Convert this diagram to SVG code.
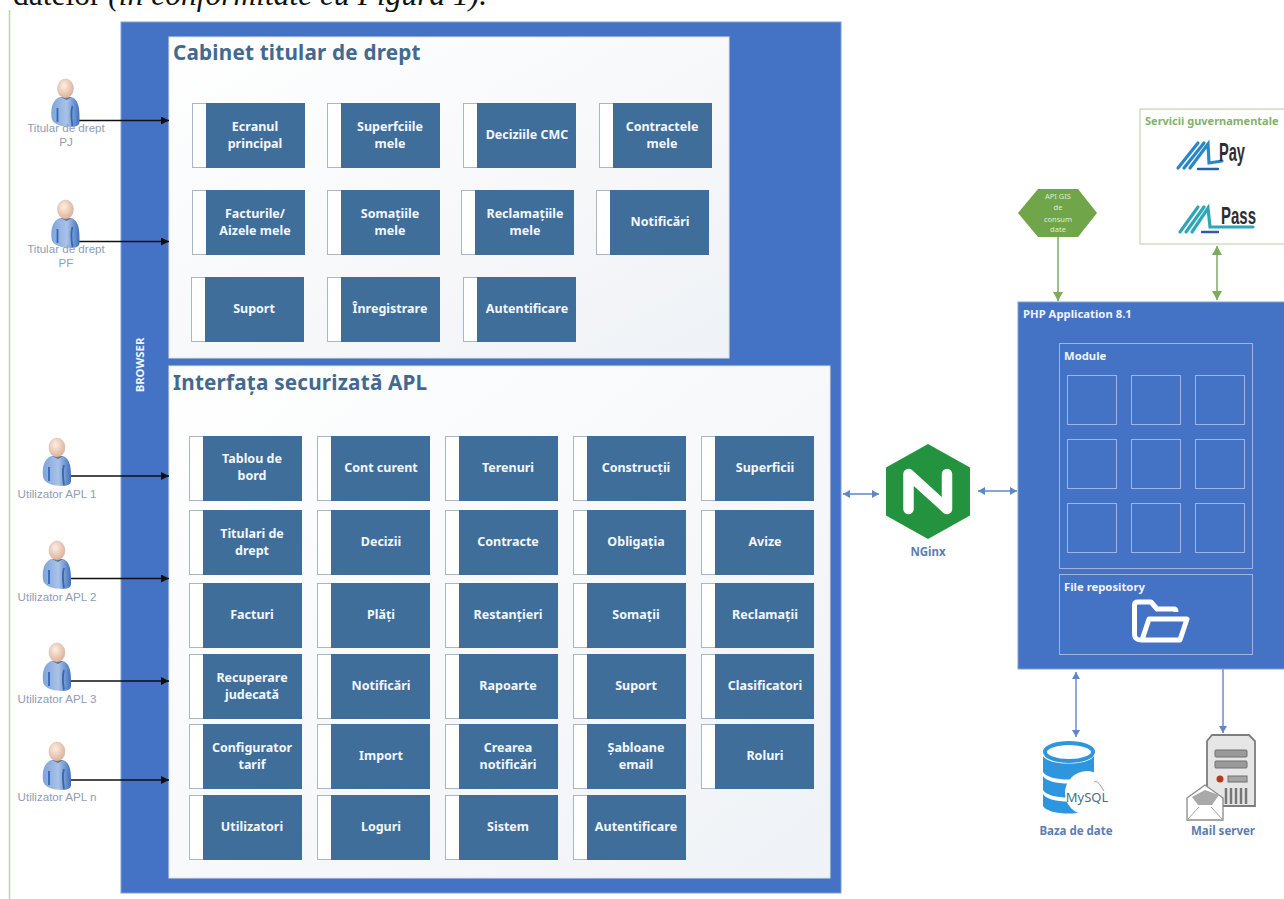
<svg xmlns="http://www.w3.org/2000/svg" width="1284" height="899" viewBox="0 0 1284 899">
<style>
text{font-family:"Noto Sans","Open Sans","DejaVu Sans",sans-serif}
.panel{fill:url(#pg);stroke:#dde3ea;stroke-width:1}
.blue{fill:#4472c4;stroke:#7f9fd6;stroke-width:1}
.bw{fill:#fff;stroke:#a9b6c4;stroke-width:1}
.bb{fill:#406e9b}
.t{fill:#f4f7fa;font-size:12.5px;font-weight:700;text-anchor:middle}
.h{fill:#44698f;font-size:20.7px;font-weight:700;letter-spacing:.2px}
.u{fill:#8f9db5;font-size:11.6px;text-anchor:middle;font-family:"Liberation Sans",sans-serif}
.w{fill:#f0f4fa;font-size:11.3px;font-weight:700}
.lab{fill:#5b7db5;font-size:11.5px;font-weight:700;text-anchor:middle}
.sq{fill:none;stroke:#9db5e0;stroke-width:1}
.k{stroke:#111;stroke-width:1.3;fill:none;marker-end:url(#ak)}
.b2{stroke:#5f86c6;stroke-width:1.4;fill:none;marker-start:url(#abs);marker-end:url(#ab)}
.b1{stroke:#5f86c6;stroke-width:1.4;fill:none;marker-end:url(#ab)}
.g2{stroke:#84b168;stroke-width:1.6;fill:none;marker-start:url(#ags);marker-end:url(#ag)}
.g1{stroke:#84b168;stroke-width:1.6;fill:none;marker-end:url(#ag)}
</style>
<defs>
<linearGradient id="pg" x1="0" y1="0" x2="1" y2="1"><stop offset="0" stop-color="#ffffff"/><stop offset="1" stop-color="#eff2f6"/></linearGradient>
<radialGradient id="hd" cx=".4" cy=".35" r=".7"><stop offset="0" stop-color="#fdeee4"/><stop offset="1" stop-color="#dcae92"/></radialGradient>
<linearGradient id="bd" x1="0" y1="0" x2="1" y2="0"><stop offset="0" stop-color="#7fa3da"/><stop offset=".55" stop-color="#a9c3e8"/><stop offset="1" stop-color="#3f70bd"/></linearGradient>
<marker id="ak" markerWidth="9" markerHeight="8" refX="8" refY="4" orient="auto" markerUnits="userSpaceOnUse"><path d="M0 0L8 4L0 8Z" fill="#111"/></marker>
<marker id="ab" markerWidth="8" markerHeight="8" refX="7" refY="4" orient="auto" markerUnits="userSpaceOnUse"><path d="M0 0L7 4L0 8Z" fill="#5f86c6"/></marker>
<marker id="abs" markerWidth="8" markerHeight="8" refX="1" refY="4" orient="auto" markerUnits="userSpaceOnUse"><path d="M8 0L1 4L8 8Z" fill="#5f86c6"/></marker>
<marker id="ag" markerWidth="10" markerHeight="10" refX="9" refY="5" orient="auto" markerUnits="userSpaceOnUse"><path d="M0 0L9 5L0 10Z" fill="#7cab5c"/></marker>
<marker id="ags" markerWidth="10" markerHeight="10" refX="1" refY="5" orient="auto" markerUnits="userSpaceOnUse"><path d="M10 0L1 5L10 10Z" fill="#7cab5c"/></marker>
<g id="person">
<path d="M-14 38C-15 27-12 21-6 18L6 18C12 20 14 27 14 38L14 43C14 47 9 48 6 48C-4 48-14 45-14 38Z" fill="url(#bd)"/>
<path d="M-8 29L-8 43M7 27C5 33 6 41 7 47" stroke="#3467b4" stroke-width="1.8" fill="none"/>
<path d="M-5 18L6 18L1 21Z" fill="#5a6f8f"/>
<ellipse cx="0" cy="9.500" rx="8" ry="9.500" fill="url(#hd)" stroke="#c9b8ac" stroke-width=".5"/>
</g>
</defs>
<rect width="1284" height="899" fill="#fff"/>
<text x="13" y="5" font-size="31.500" style="font-family:'Liberation Serif',serif" fill="#111">datelor <tspan font-style="italic">(în conformitate cu Figura 1).</tspan></text>
<path d="M9.500 10V899" stroke="#b9d7a6" stroke-width="1.500"/>

<g id="browser"><rect class="blue" x="121" y="22" width="720" height="871"/>
<text class="w" transform="translate(144 365) rotate(-90)" text-anchor="middle">BROWSER</text></g>

<g id="cabinet"><rect class="panel" x="169" y="37" width="560" height="321"/><text class="h" x="173" y="60">Cabinet titular de drept</text></g>
<g id="interfata"><rect class="panel" x="169" y="366" width="661" height="512"/><text class="h" x="173" y="390">Interfața securizată APL</text></g>

<g id="c1"><rect class="bw" x="192.500" y="103.500" width="112" height="64"/><rect class="bb" x="206" y="103" width="99" height="65"/><text class="t" x="255" y="131">Ecranul</text><text class="t" x="255" y="148">principal</text></g>
<g id="c2"><rect class="bw" x="327.500" y="103.500" width="112" height="64"/><rect class="bb" x="341" y="103" width="99" height="65"/><text class="t" x="390" y="131">Superfciile</text><text class="t" x="390" y="148">mele</text></g>
<g id="c3"><rect class="bw" x="463.500" y="103.500" width="112" height="64"/><rect class="bb" x="477" y="103" width="99" height="65"/><text class="t" x="527" y="139">Deciziile CMC</text></g>
<g id="c4"><rect class="bw" x="599.500" y="103.500" width="112" height="64"/><rect class="bb" x="613" y="103" width="99" height="65"/><text class="t" x="662" y="131">Contractele</text><text class="t" x="662" y="148">mele</text></g>
<g id="c5"><rect class="bw" x="192.500" y="190.500" width="112" height="64"/><rect class="bb" x="206" y="190" width="99" height="65"/><text class="t" x="255" y="218">Facturile/</text><text class="t" x="255" y="235">Aizele mele</text></g>
<g id="c6"><rect class="bw" x="327.500" y="190.500" width="112" height="64"/><rect class="bb" x="341" y="190" width="99" height="65"/><text class="t" x="390" y="218">Somațiile</text><text class="t" x="390" y="235">mele</text></g>
<g id="c7"><rect class="bw" x="461.500" y="190.500" width="112" height="64"/><rect class="bb" x="475" y="190" width="99" height="65"/><text class="t" x="525" y="218">Reclamațiile</text><text class="t" x="525" y="235">mele</text></g>
<g id="c8"><rect class="bw" x="596.500" y="190.500" width="112" height="64"/><rect class="bb" x="610" y="190" width="99" height="65"/><text class="t" x="660" y="226">Notificări</text></g>
<g id="c9"><rect class="bw" x="191.500" y="277.500" width="112" height="64"/><rect class="bb" x="205" y="277" width="99" height="65"/><text class="t" x="254" y="313">Suport</text></g>
<g id="c10"><rect class="bw" x="327.500" y="277.500" width="112" height="64"/><rect class="bb" x="341" y="277" width="99" height="65"/><text class="t" x="390" y="313">Înregistrare</text></g>
<g id="c11"><rect class="bw" x="463.500" y="277.500" width="112" height="64"/><rect class="bb" x="477" y="277" width="99" height="65"/><text class="t" x="527" y="313">Autentificare</text></g>

<g id="a1"><rect class="bw" x="189.500" y="436.500" width="112" height="64"/><rect class="bb" x="203" y="436" width="99" height="65"/><text class="t" x="252" y="463">Tablou de</text><text class="t" x="252" y="480">bord</text></g>
<g id="a2"><rect class="bw" x="317.500" y="436.500" width="112" height="64"/><rect class="bb" x="331" y="436" width="99" height="65"/><text class="t" x="381" y="472">Cont curent</text></g>
<g id="a3"><rect class="bw" x="445.500" y="436.500" width="112" height="64"/><rect class="bb" x="459" y="436" width="99" height="65"/><text class="t" x="508" y="472">Terenuri</text></g>
<g id="a4"><rect class="bw" x="573.500" y="436.500" width="112" height="64"/><rect class="bb" x="587" y="436" width="99" height="65"/><text class="t" x="636" y="472">Construcții</text></g>
<g id="a5"><rect class="bw" x="701.500" y="436.500" width="112" height="64"/><rect class="bb" x="715" y="436" width="99" height="65"/><text class="t" x="765" y="472">Superficii</text></g>

<g id="a6"><rect class="bw" x="189.500" y="510.500" width="112" height="64"/><rect class="bb" x="203" y="510" width="99" height="65"/><text class="t" x="252" y="538">Titulari de</text><text class="t" x="252" y="555">drept</text></g>
<g id="a7"><rect class="bw" x="317.500" y="510.500" width="112" height="64"/><rect class="bb" x="331" y="510" width="99" height="65"/><text class="t" x="381" y="546">Decizii</text></g>
<g id="a8"><rect class="bw" x="445.500" y="510.500" width="112" height="64"/><rect class="bb" x="459" y="510" width="99" height="65"/><text class="t" x="508" y="546">Contracte</text></g>
<g id="a9"><rect class="bw" x="573.500" y="510.500" width="112" height="64"/><rect class="bb" x="587" y="510" width="99" height="65"/><text class="t" x="636" y="546">Obligația</text></g>
<g id="a10"><rect class="bw" x="701.500" y="510.500" width="112" height="64"/><rect class="bb" x="715" y="510" width="99" height="65"/><text class="t" x="765" y="546">Avize</text></g>

<g id="a11"><rect class="bw" x="189.500" y="583.500" width="112" height="64"/><rect class="bb" x="203" y="583" width="99" height="65"/><text class="t" x="252" y="619">Facturi</text></g>
<g id="a12"><rect class="bw" x="317.500" y="583.500" width="112" height="64"/><rect class="bb" x="331" y="583" width="99" height="65"/><text class="t" x="381" y="619">Plăți</text></g>
<g id="a13"><rect class="bw" x="445.500" y="583.500" width="112" height="64"/><rect class="bb" x="459" y="583" width="99" height="65"/><text class="t" x="508" y="619">Restanțieri</text></g>
<g id="a14"><rect class="bw" x="573.500" y="583.500" width="112" height="64"/><rect class="bb" x="587" y="583" width="99" height="65"/><text class="t" x="636" y="619">Somații</text></g>
<g id="a15"><rect class="bw" x="701.500" y="583.500" width="112" height="64"/><rect class="bb" x="715" y="583" width="99" height="65"/><text class="t" x="765" y="619">Reclamații</text></g>

<g id="a16"><rect class="bw" x="189.500" y="654.500" width="112" height="64"/><rect class="bb" x="203" y="654" width="99" height="65"/><text class="t" x="252" y="682">Recuperare</text><text class="t" x="252" y="699">judecată</text></g>
<g id="a17"><rect class="bw" x="317.500" y="654.500" width="112" height="64"/><rect class="bb" x="331" y="654" width="99" height="65"/><text class="t" x="381" y="690">Notificări</text></g>
<g id="a18"><rect class="bw" x="445.500" y="654.500" width="112" height="64"/><rect class="bb" x="459" y="654" width="99" height="65"/><text class="t" x="508" y="690">Rapoarte</text></g>
<g id="a19"><rect class="bw" x="573.500" y="654.500" width="112" height="64"/><rect class="bb" x="587" y="654" width="99" height="65"/><text class="t" x="636" y="690">Suport</text></g>
<g id="a20"><rect class="bw" x="701.500" y="654.500" width="112" height="64"/><rect class="bb" x="715" y="654" width="99" height="65"/><text class="t" x="765" y="690">Clasificatori</text></g>

<g id="a21"><rect class="bw" x="189.500" y="724.500" width="112" height="64"/><rect class="bb" x="203" y="724" width="99" height="65"/><text class="t" x="252" y="752">Configurator</text><text class="t" x="252" y="769">tarif</text></g>
<g id="a22"><rect class="bw" x="317.500" y="724.500" width="112" height="64"/><rect class="bb" x="331" y="724" width="99" height="65"/><text class="t" x="381" y="760">Import</text></g>
<g id="a23"><rect class="bw" x="445.500" y="724.500" width="112" height="64"/><rect class="bb" x="459" y="724" width="99" height="65"/><text class="t" x="508" y="752">Crearea</text><text class="t" x="508" y="769">notificări</text></g>
<g id="a24"><rect class="bw" x="573.500" y="724.500" width="112" height="64"/><rect class="bb" x="587" y="724" width="99" height="65"/><text class="t" x="636" y="752">Șabloane</text><text class="t" x="636" y="769">email</text></g>
<g id="a25"><rect class="bw" x="701.500" y="724.500" width="112" height="64"/><rect class="bb" x="715" y="724" width="99" height="65"/><text class="t" x="765" y="760">Roluri</text></g>

<g id="a26"><rect class="bw" x="189.500" y="795.500" width="112" height="64"/><rect class="bb" x="203" y="795" width="99" height="65"/><text class="t" x="252" y="831">Utilizatori</text></g>
<g id="a27"><rect class="bw" x="317.500" y="795.500" width="112" height="64"/><rect class="bb" x="331" y="795" width="99" height="65"/><text class="t" x="381" y="831">Loguri</text></g>
<g id="a28"><rect class="bw" x="445.500" y="795.500" width="112" height="64"/><rect class="bb" x="459" y="795" width="99" height="65"/><text class="t" x="508" y="831">Sistem</text></g>
<g id="a29"><rect class="bw" x="573.500" y="795.500" width="112" height="64"/><rect class="bb" x="587" y="795" width="99" height="65"/><text class="t" x="636" y="831">Autentificare</text></g>

<g id="connectors">
<path class="k" d="M79 120.500H169"/><path class="k" d="M79 241.500H169"/>
<path class="k" d="M70 476H169"/><path class="k" d="M70 578.500H169"/><path class="k" d="M70 681H169"/><path class="k" d="M70 780H169"/>
<path class="b2" d="M843 494H879"/><path class="b2" d="M978 491H1017"/>
<path class="b2" d="M1076 672V737"/><path class="b1" d="M1223 669V733"/>
<path class="g1" d="M1058 237V301"/><path class="g2" d="M1217 246V300"/>
</g>

<g id="u1"><use href="#person" x="65.500" y="79"/><text class="u" x="66" y="132">Titular de drept</text><text class="u" x="66" y="146">PJ</text></g>
<g id="u2"><use href="#person" x="65.500" y="200"/><text class="u" x="66" y="253">Titular de drept</text><text class="u" x="66" y="267">PF</text></g>
<g id="u3"><use href="#person" x="57" y="438"/><text class="u" x="57" y="498">Utilizator APL 1</text></g>
<g id="u4"><use href="#person" x="57" y="541"/><text class="u" x="57" y="601">Utilizator APL 2</text></g>
<g id="u5"><use href="#person" x="57" y="643"/><text class="u" x="57" y="703">Utilizator APL 3</text></g>
<g id="u6"><use href="#person" x="57" y="742"/><text class="u" x="57" y="801">Utilizator APL n</text></g>

<g id="nginx"><path d="M928 444L970 467.500V515.500L928 539L886 515.500V467.500Z" fill="#23933f"/>
<path d="M908.500 509V474L947 509V474" fill="none" stroke="#fff" stroke-width="10.500" stroke-linecap="round" stroke-linejoin="round"/>
<text class="lab" x="928" y="556">NGinx</text></g>

<g id="api"><path d="M1018 213L1038 189H1078L1097 213L1078 237H1038Z" fill="#70a54a"/>
<g fill="#dfeed5" font-size="7.500" text-anchor="middle"><text x="1058" y="199">API GIS</text><text x="1058" y="210">de</text><text x="1058" y="222">consum</text><text x="1058" y="232">date</text></g></g>

<g id="servicii"><rect x="1140" y="109" width="150" height="135" fill="#fff" stroke="#c5d9b8" stroke-width="1.300"/>
<text x="1145" y="125" fill="#84b168" font-size="11" font-weight="700">Servicii guvernamentale</text>
<g id="mpay" fill="none" stroke-linecap="round"><path d="M1178 168L1198 143M1184 168L1204 143M1190 168L1208 144L1209 163L1222 161" stroke="#2a86c8" stroke-width="3.200"/><path d="M1198 169H1218" stroke="#2a5fa8" stroke-width="2.400"/></g>
<text x="1219" y="161" font-size="25" font-weight="700" fill="#2d2d33" style="font-family:'Liberation Sans',sans-serif" textLength="26" lengthAdjust="spacingAndGlyphs">Pay</text>
<g id="mpass" fill="none" stroke-linecap="round"><path d="M1180 232L1198 207M1186 232L1204 207M1192 232L1208 208L1210 227H1253" stroke="#2fa6b8" stroke-width="3.200"/><path d="M1202 232H1218" stroke="#2a5fa8" stroke-width="2.400"/></g>
<text x="1221" y="224" font-size="24" font-weight="700" fill="#2d2d33" style="font-family:'Liberation Sans',sans-serif" textLength="35" lengthAdjust="spacingAndGlyphs">Pass</text></g>

<g id="php"><rect class="blue" x="1018" y="302" width="270" height="367"/>
<text class="w" x="1023" y="318">PHP Application 8.1</text></g>
<g id="module"><rect class="sq" x="1059.500" y="343.500" width="193" height="225"/><text class="w" x="1064" y="360">Module</text>
<rect class="sq" x="1067.500" y="375.500" width="49" height="49"/><rect class="sq" x="1131.500" y="375.500" width="49" height="49"/><rect class="sq" x="1195.500" y="375.500" width="49" height="49"/>
<rect class="sq" x="1067.500" y="439.500" width="49" height="49"/><rect class="sq" x="1131.500" y="439.500" width="49" height="49"/><rect class="sq" x="1195.500" y="439.500" width="49" height="49"/>
<rect class="sq" x="1067.500" y="503.500" width="49" height="49"/><rect class="sq" x="1131.500" y="503.500" width="49" height="49"/><rect class="sq" x="1195.500" y="503.500" width="49" height="49"/></g>
<g id="repo"><rect class="sq" x="1059.500" y="574.500" width="193" height="80"/><text class="w" x="1064" y="591">File repository</text>
<path d="M1142 640H1180L1187 619H1149L1142 640C1136 640 1134.500 638 1134.500 634V605C1134.500 603 1136 602 1138 602H1151L1157 609H1174C1175 609 1176 610 1176 612" fill="none" stroke="#fff" stroke-width="5" stroke-linejoin="round"/></g>

<g id="db"><ellipse cx="1069" cy="752" rx="24" ry="9" fill="#fff" stroke="#2e96de" stroke-width="4"/>
<path d="M1043 756V772C1048 782 1089 782 1094 772V756C1089 766 1048 766 1043 756Z M1043 776V790C1048 800 1089 800 1094 790V776C1089 786 1048 786 1043 776Z M1043 794V806C1048 816 1089 816 1094 806V794C1089 804 1048 804 1043 794Z" fill="#2e96de"/>
<circle cx="1087" cy="793" r="22" fill="#fff"/>
<text x="1087" y="802" font-size="13" fill="#47707f" text-anchor="middle">MySQL</text>
<path d="M1094 782C1098 780 1100 785 1104 791" fill="none" stroke="#888" stroke-width=".8"/>
<text class="lab" x="1076" y="835">Baza de date</text></g>

<g id="mail"><path d="M1212 735H1249L1255 741V806H1207V741Z" fill="#e6e6e6" stroke="#7d7d7d" stroke-width="1.800"/>
<rect x="1215" y="750" width="32" height="7" rx="1" fill="#9a9a9a" stroke="#707070"/><rect x="1215" y="761" width="32" height="7" rx="1" fill="#9a9a9a" stroke="#707070"/>
<circle cx="1220" cy="779" r="3.500" fill="#b9391f"/><rect x="1228" y="776" width="19" height="6" fill="#a5a5a5" stroke="#707070"/>
<path d="M1226 788V804M1231 788V804M1236 788V804M1241 788V804M1246 788V804" stroke="#777" stroke-width="2.500"/>
<path d="M1187 798L1205 785L1223 798V820H1187Z" fill="#fff" stroke="#8a8a8a" stroke-width="1.300"/>
<path d="M1192 797L1205 790L1219 795L1212 805H1198Z" fill="#a9a9a9"/><path d="M1187 820L1199 807M1223 820L1211 807" stroke="#a0a0a0"/>
<text class="lab" x="1223" y="835">Mail server</text></g>
</svg>
